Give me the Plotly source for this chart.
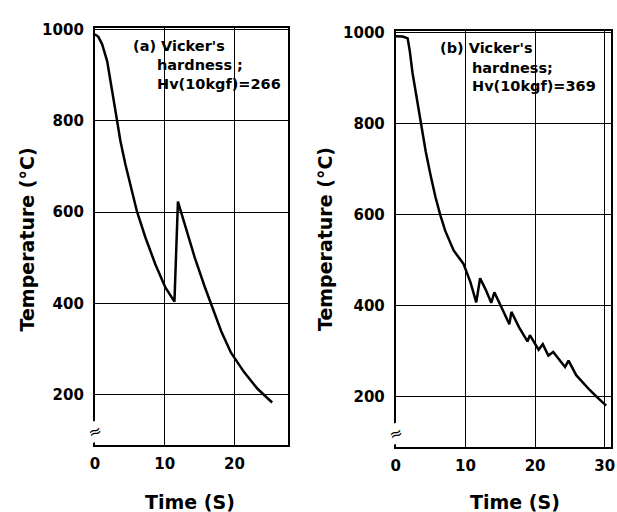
import plotly.graph_objects as go

# ---- data ----
time_a = [0.0, 0.5, 1.04, 1.76, 2.47, 3.19, 3.66, 4.37, 5.09, 6.04, 7.23, 8.66, 10.1, 11.4,
          11.9, 12.9, 14.3, 15.75, 16.95, 18.1, 19.5, 21.4, 23.3, 25.4]
temp_a = [990, 984, 968, 931, 866, 800, 756, 705, 661, 601, 545, 486, 435, 404,
          623, 573, 501, 436, 386, 339, 292, 249, 213, 183]

time_b = [0.0, 1.0, 1.7, 2.0, 2.4, 3.0, 3.6, 4.3, 5.0, 5.7, 6.4, 7.1, 8.3, 9.7, 10.7, 11.55,
          12.1, 12.9, 13.7, 14.15, 15.2, 16.3, 16.6, 17.7, 18.9, 19.25, 20.5, 21.1, 21.9, 22.6,
          24.3, 24.8, 25.9, 27.0, 27.8, 29.0, 30.2]
temp_b = [992, 991, 987, 960, 911, 855, 803, 738, 686, 638, 598, 564, 521, 492, 452, 407,
          460, 435, 406, 429, 395, 359, 386, 352, 321, 335, 303, 315, 290, 298,
          265, 279, 247, 228, 215, 197, 180]

x_ticks_a = [0, 10, 20]
x_ticks_b = [0, 10, 20, 30]
y_ticks = [200, 400, 600, 800, 1000]

label_a = ["(a) Vicker's", "hardness ;", "Hv(10kgf)=266"]
label_b = ["(b) Vicker's", "hardness;", "Hv(10kgf)=369"]

W, H = 617, 512
FONT = "DejaVu Sans"


def px(x):
    return x / W


def py(y):
    return 1 - y / H


fig = go.Figure()
fig.add_trace(go.Scatter(x=time_a, y=temp_a, mode="lines", line=dict(color="black", width=2.5),
                         xaxis="x", yaxis="y", showlegend=False, hoverinfo="skip"))
fig.add_trace(go.Scatter(x=time_b, y=temp_b, mode="lines", line=dict(color="black", width=2.5),
                         xaxis="x2", yaxis="y2", showlegend=False, hoverinfo="skip"))

axis_common = dict(
    showline=True, linecolor="black", linewidth=2, mirror="ticks",
    showgrid=True, gridcolor="black", gridwidth=1.1,
    ticks="inside", ticklen=5, tickwidth=1.2, tickcolor="black",
    zeroline=False, fixedrange=True, ticklabeloverflow="allow",
    tickfont=dict(family=FONT, size=15, color="black", weight="bold"),
)

fig.update_layout(
    width=W, height=H,
    margin=dict(l=0, r=0, t=0, b=0),
    paper_bgcolor="white", plot_bgcolor="white",
    xaxis=dict(axis_common, domain=[px(91.2), px(286.7)], range=[0, 27.6],
               tickvals=x_ticks_a, ticktext=[str(v) for v in x_ticks_a], anchor="y",
               ticklabelstandoff=4),
    yaxis=dict(axis_common, domain=[py(444), py(21.5)], range=[90, 1003],
               tickvals=y_ticks, ticktext=[str(v) for v in y_ticks], anchor="x",
               ticklabelstandoff=6),
    xaxis2=dict(axis_common, domain=[px(396.6), px(615)], range=[0, 30.9],
                tickvals=x_ticks_b, ticktext=[str(v) for v in x_ticks_b], anchor="y2",
                ticklabelstandoff=4),
    yaxis2=dict(axis_common, domain=[py(445.7), py(24)], range=[90, 1004],
                tickvals=y_ticks, ticktext=[str(v) for v in y_ticks], anchor="x2",
                ticklabelstandoff=6),
)

# white boxes behind the inset text (hide gridlines there)
for (x0, x1, y0, y1) in [(125, 283, 29, 90), (435, 612, 30, 92)]:
    fig.add_shape(type="rect", xref="paper", yref="paper",
                  x0=px(x0), x1=px(x1), y0=py(y1), y1=py(y0),
                  fillcolor="white", line=dict(width=0), layer="between")

ann_font = dict(family=FONT, size=14.5, color="black", weight="bold")
for (lines, xs, ys) in [(label_a, [128, 152, 152], [40, 59, 78]),
                        (label_b, [439, 472, 472], [42, 62, 80])]:
    for t, xx, yy in zip(lines, xs, ys):
        fig.add_annotation(text=t, xref="paper", yref="paper", x=px(xx), y=py(yy),
                           xanchor="left", yanchor="middle", showarrow=False, font=ann_font)

title_font = dict(family=FONT, size=19, color="black", weight="bold")
for (xx, yy) in [(22, 236), (325, 235)]:
    fig.add_annotation(text="Temperature (°C)", xref="paper", yref="paper", x=px(xx), y=py(yy),
                       xanchor="center", yanchor="middle", textangle=-90, showarrow=False,
                       font=title_font)
for (xx, yy) in [(188, 502), (518, 502)]:
    fig.add_annotation(text="Time (S)", xref="paper", yref="paper", x=px(xx), y=py(yy),
                       xanchor="center", yanchor="middle", showarrow=False, font=title_font)

# axis break marks
for (xx, yy) in [(91.2, 430), (396.6, 432)]:
    fig.add_annotation(text="≈", xref="paper", yref="paper", x=px(xx), y=py(yy),
                       xanchor="center", yanchor="middle", showarrow=False, textangle=-20,
                       bgcolor="white", borderpad=0,
                       font=dict(family=FONT, size=16, color="black"))

fig.write_html(
    "out.html",
    config={"displayModeBar": False},
    post_script="document.body.style.margin='0px';document.body.style.overflow='hidden';",
)
